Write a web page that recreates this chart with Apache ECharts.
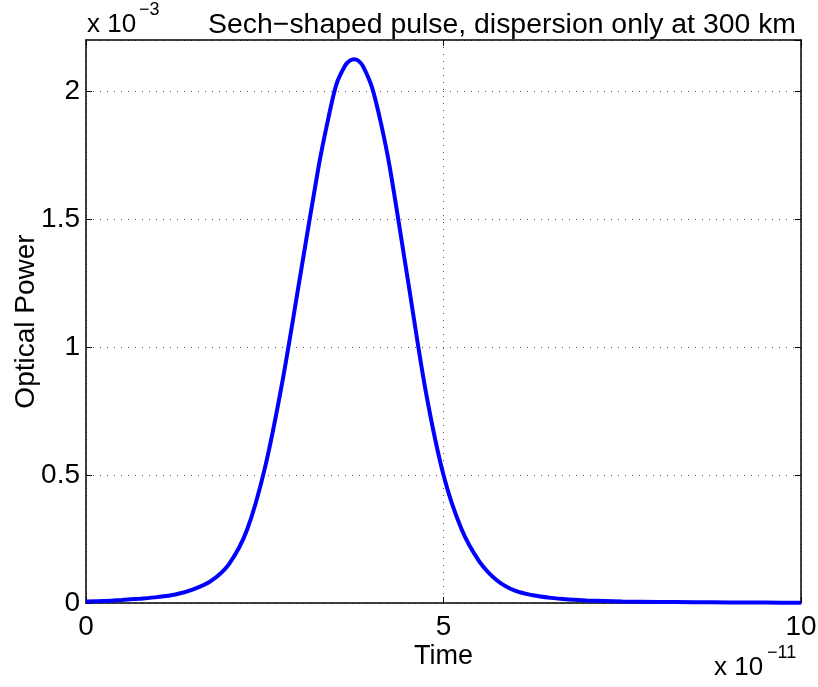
<!DOCTYPE html>
<html>
<head>
<meta charset="utf-8">
<script src="https://cdn.jsdelivr.net/npm/echarts@6/dist/echarts.min.js"></script>
<style>
  html, body { margin: 0; padding: 0; background: #ffffff; }
  #chart { width: 818px; height: 687px; }
</style>
</head>
<body>
<div id="chart"></div>
<script>
// Time samples, in units of 1e-11 s
const timeValues = [
  0, 0.25, 0.5, 0.75, 1.0, 1.25, 1.5, 1.75, 2.0, 2.25, 2.5, 2.75, 3.0,
  3.25, 3.375, 3.5, 3.625, 3.69, 3.75, 3.81, 3.875, 4.0, 4.125, 4.25,
  4.5, 4.75, 5.0, 5.25, 5.5, 5.75, 6.0, 6.25, 6.5, 6.75, 7.0, 7.5, 8.0,
  8.5, 9.0, 9.5, 10.0
];
// Optical power at each sample, in units of 1e-3
const powerValues = [
  0.006, 0.008, 0.012, 0.017, 0.023, 0.033, 0.053, 0.086, 0.152, 0.284,
  0.525, 0.87, 1.285, 1.70, 1.875, 2.025, 2.100, 2.119, 2.125, 2.119,
  2.097, 2.015, 1.875, 1.70, 1.265, 0.83, 0.50, 0.29, 0.163, 0.088,
  0.048, 0.030, 0.020, 0.014, 0.010, 0.006, 0.004, 0.003, 0.002, 0.0015,
  0.001
];
const xTicks = [0, 5, 10];
const yTicks = [0, 0.5, 1, 1.5, 2];
const xRange = [0, 10];
const yRange = [0, 2.2];
const xExponent = '−11';
const yExponent = '−3';
const titleText = 'Sech−shaped pulse, dispersion only at 300 km';
const xName = 'Time';
const yName = 'Optical Power';

const FONT = 'Liberation Sans, Arial, Helvetica, sans-serif';
const seriesData = timeValues.map((t, i) => [t, powerValues[i]]);

const chart = echarts.init(document.getElementById('chart'), null, { renderer: 'canvas' });

const gridStyle = { type: [1, 6], color: '#555', width: 1 };
const tickIn = { show: true, inside: true, length: 6, lineStyle: { color: '#000', width: 1 } };
const axisLineBlack = { show: true, onZero: false, lineStyle: { color: '#000', width: 1.5 } };

chart.setOption({
  animation: false,
  backgroundColor: '#ffffff',
  title: {
    text: titleText,
    right: 17,
    top: 6,
    textStyle: { fontFamily: FONT, fontSize: 28.4, fontWeight: 'normal', color: '#000' }
  },
  grid: { left: 86, right: 17, top: 40, bottom: 84, containLabel: false, outerBoundsMode: 'none' },
  xAxis: [
    {
      type: 'value', min: xRange[0], max: xRange[1], interval: xTicks[1] - xTicks[0],
      position: 'bottom',
      name: xName, nameLocation: 'middle', nameGap: 40, nameMoveOverlap: false,
      nameTextStyle: { fontFamily: FONT, fontSize: 27, color: '#000' },
      axisLine: axisLineBlack,
      axisTick: tickIn,
      axisLabel: { margin: 10, fontFamily: FONT, fontSize: 28, color: '#000' },
      splitLine: { show: true, lineStyle: gridStyle }
    },
    {
      type: 'value', min: xRange[0], max: xRange[1], interval: xTicks[1] - xTicks[0],
      position: 'top',
      axisLine: axisLineBlack,
      axisTick: tickIn,
      axisLabel: { show: false },
      splitLine: { show: false }
    }
  ],
  yAxis: [
    {
      type: 'value', min: yRange[0], max: yRange[1], interval: yTicks[1] - yTicks[0],
      position: 'left',
      name: yName, nameLocation: 'middle', nameGap: 46, nameMoveOverlap: false,
      nameTextStyle: { fontFamily: FONT, fontSize: 28, color: '#000' },
      axisLine: axisLineBlack,
      axisTick: tickIn,
      axisLabel: { margin: 6, fontFamily: FONT, fontSize: 28, color: '#000', showMaxLabel: false },
      splitLine: { show: true, lineStyle: gridStyle }
    },
    {
      type: 'value', min: yRange[0], max: yRange[1], interval: yTicks[1] - yTicks[0],
      position: 'right',
      axisLine: axisLineBlack,
      axisTick: tickIn,
      axisLabel: { show: false },
      splitLine: { show: false }
    }
  ],
  series: [
    {
      type: 'line',
      data: seriesData,
      xAxisIndex: 0,
      yAxisIndex: 0,
      smooth: 0.3,
      showSymbol: false,
      lineStyle: { color: '#0000ff', width: 4 },
      z: 3
    }
  ],
  graphic: [
    // y-axis multiplier
    { type: 'text', left: 87, top: 12,
      style: { text: 'x 10', font: '26px ' + FONT, fill: '#000' } },
    { type: 'text', left: 139, top: 1,
      style: { text: yExponent, font: '18px ' + FONT, fill: '#000' } },
    // x-axis multiplier
    { type: 'text', left: 714, top: 655,
      style: { text: 'x 10', font: '26px ' + FONT, fill: '#000' } },
    { type: 'text', left: 767, top: 644,
      style: { text: xExponent, font: '18px ' + FONT, fill: '#000' } }
  ]
});
</script>
</body>
</html>
